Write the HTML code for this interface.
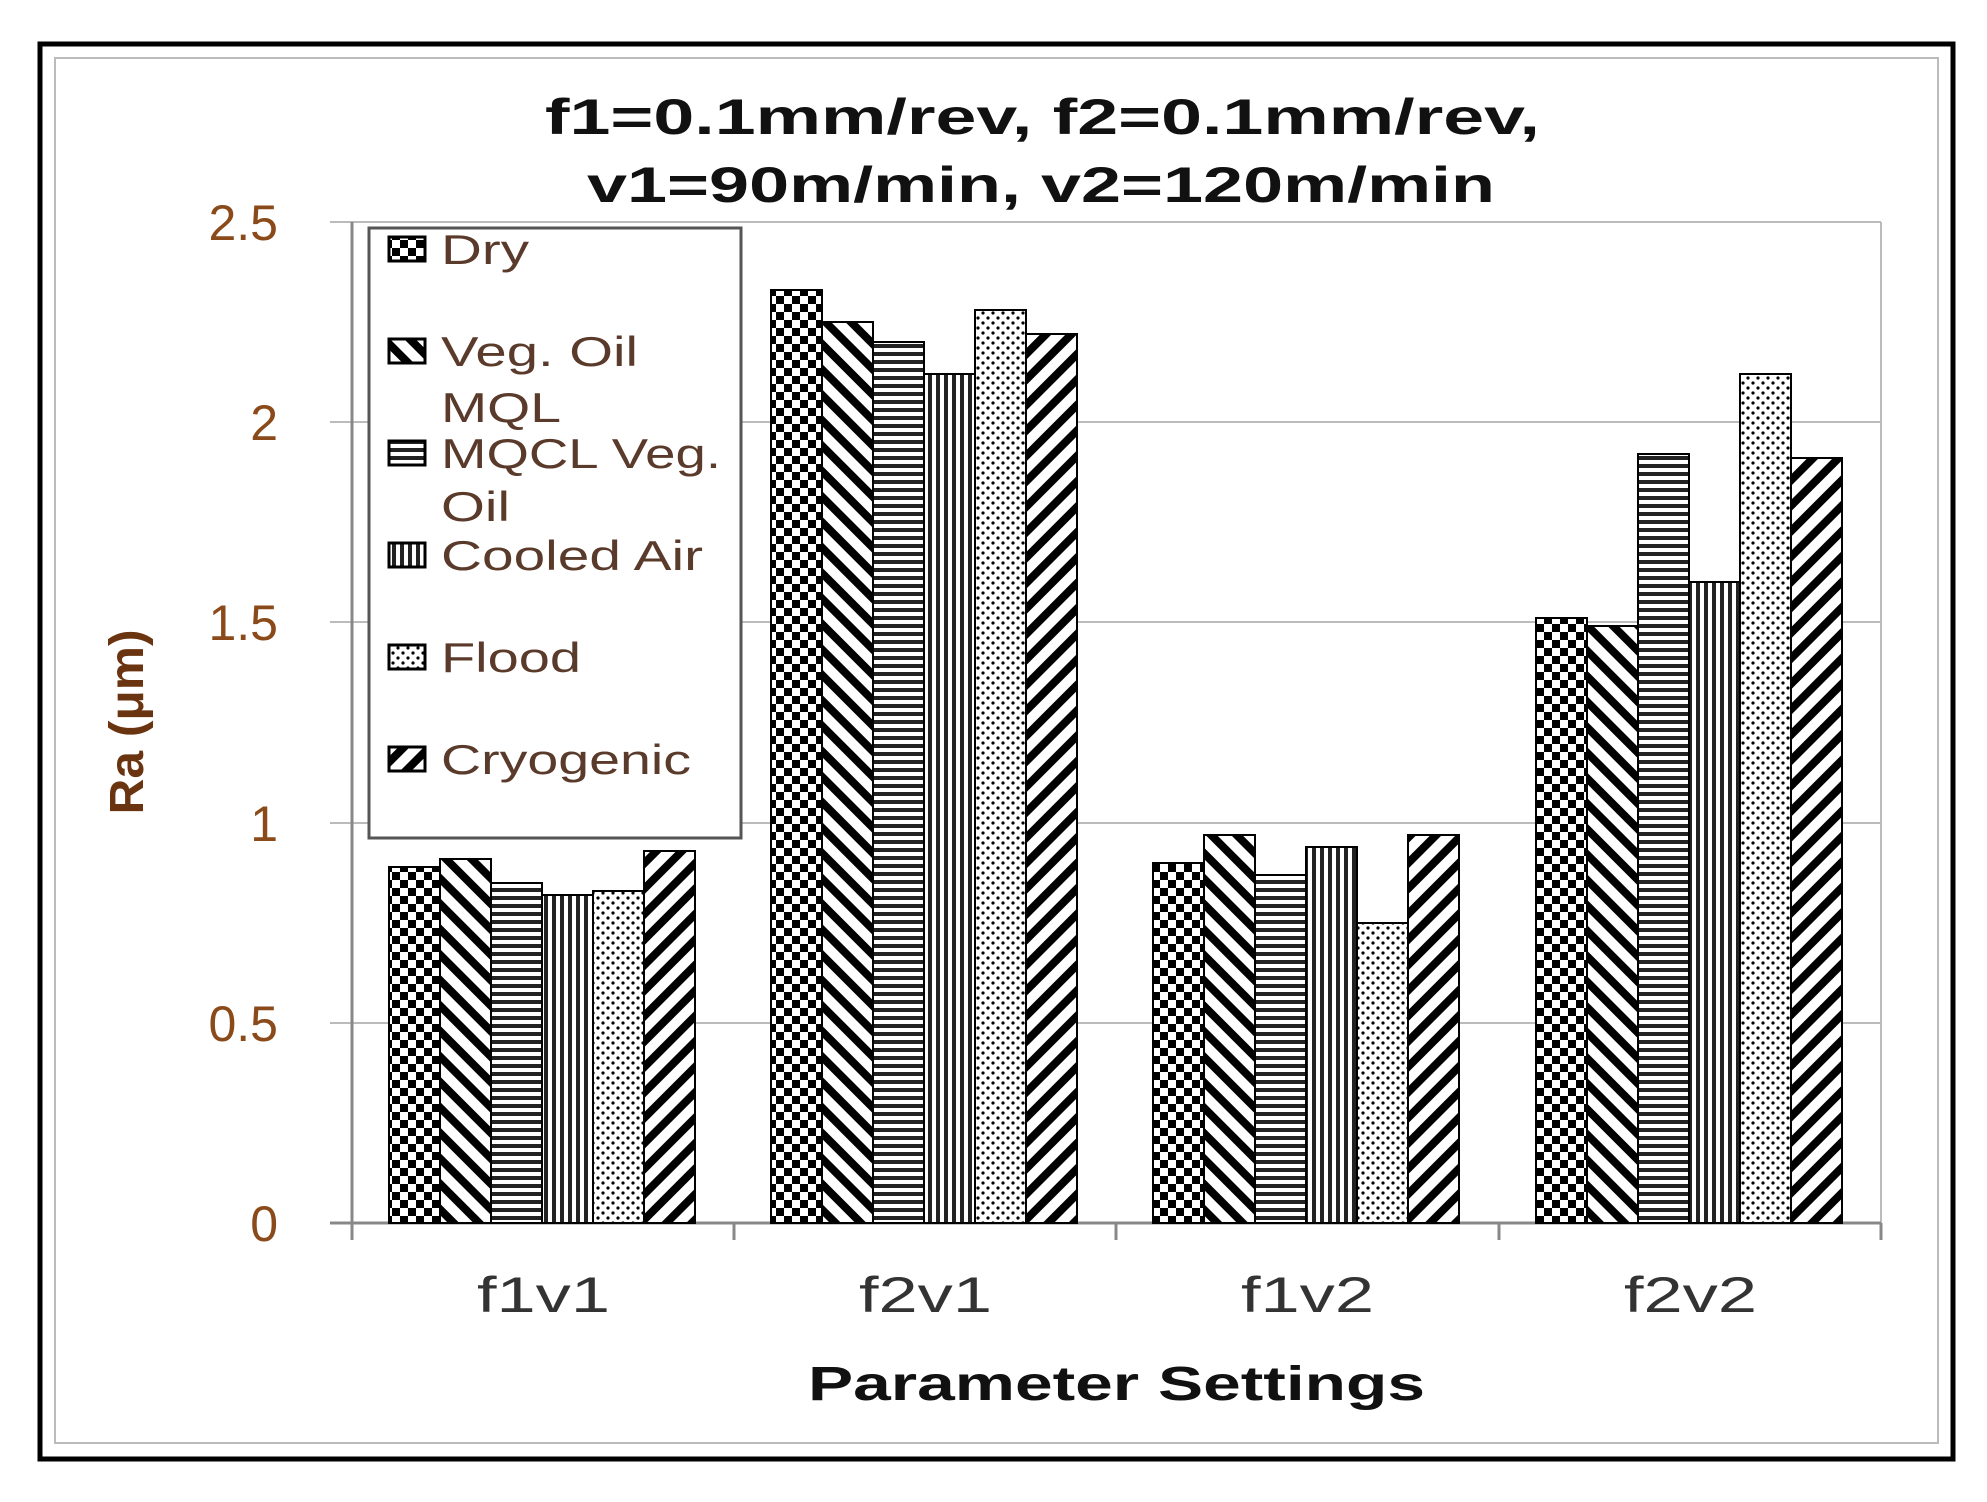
<!DOCTYPE html>
<html><head><meta charset="utf-8"><style>
html,body{margin:0;padding:0;background:#fff;}
svg{display:block;}
</style></head><body>
<svg width="1987" height="1502" viewBox="0 0 1987 1502" xmlns="http://www.w3.org/2000/svg" font-family="'Liberation Sans', sans-serif">
<defs>
<pattern id="pDry" width="16" height="16" patternUnits="userSpaceOnUse">
<rect width="16" height="16" fill="#fff"/><rect width="8" height="8" fill="#000"/><rect x="8" y="8" width="8" height="8" fill="#000"/></pattern>
<pattern id="pVeg" width="18" height="18" patternUnits="userSpaceOnUse" patternTransform="rotate(45)">
<rect width="18" height="18" fill="#fff"/><rect width="18" height="8" fill="#000"/></pattern>
<pattern id="pMq" width="8" height="8" patternUnits="userSpaceOnUse">
<rect width="8" height="8" fill="#fff"/><rect width="8" height="4" fill="#222"/></pattern>
<pattern id="pCa" width="8" height="8" patternUnits="userSpaceOnUse">
<rect width="8" height="8" fill="#fff"/><rect width="4" height="8" fill="#222"/></pattern>
<pattern id="pFl" width="10" height="10" patternUnits="userSpaceOnUse">
<rect width="10" height="10" fill="#fff"/><circle cx="3" cy="3" r="1.6" fill="#000"/><circle cx="8" cy="8" r="1.6" fill="#000"/></pattern>
<pattern id="pCr" width="18" height="18" patternUnits="userSpaceOnUse" patternTransform="rotate(-45)">
<rect width="18" height="18" fill="#fff"/><rect width="18" height="8" fill="#000"/></pattern>
</defs>
<rect width="1987" height="1502" fill="#fff"/>
<rect x="40" y="44" width="1913" height="1415" fill="none" stroke="#000" stroke-width="5"/>
<rect x="55" y="58" width="1883" height="1385" fill="none" stroke="#bbb" stroke-width="2"/>
<g font-weight="bold" font-size="50" fill="#111">
<text x="545" y="134" textLength="995" lengthAdjust="spacingAndGlyphs">f1=0.1mm/rev, f2=0.1mm/rev,</text>
<text x="587" y="202" textLength="908" lengthAdjust="spacingAndGlyphs">v1=90m/min, v2=120m/min</text>
</g>
<g stroke="#bbb" stroke-width="2">
<line x1="330" y1="222" x2="1881" y2="222"/>
<line x1="330" y1="422" x2="1881" y2="422"/>
<line x1="330" y1="622" x2="1881" y2="622"/>
<line x1="330" y1="823" x2="1881" y2="823"/>
<line x1="330" y1="1023" x2="1881" y2="1023"/>
<line x1="1881" y1="222" x2="1881" y2="1223"/>
</g>
<g stroke="#888" stroke-width="3">
<line x1="352" y1="222" x2="352" y2="1223"/>
<line x1="330" y1="1223" x2="1881" y2="1223"/>
<line x1="352" y1="1223" x2="352" y2="1240"/>
<line x1="734" y1="1223" x2="734" y2="1240"/>
<line x1="1116" y1="1223" x2="1116" y2="1240"/>
<line x1="1499" y1="1223" x2="1499" y2="1240"/>
<line x1="1881" y1="1223" x2="1881" y2="1240"/>
</g>
<g font-size="50" fill="#8a4a1a" text-anchor="end">
<text x="278" y="240">2.5</text>
<text x="278" y="440">2</text>
<text x="278" y="640">1.5</text>
<text x="278" y="841">1</text>
<text x="278" y="1041">0.5</text>
<text x="278" y="1241">0</text>
</g>
<text transform="translate(143,722) rotate(-90)" font-size="48" font-weight="bold" fill="#6b3410" text-anchor="middle" textLength="185" lengthAdjust="spacingAndGlyphs">Ra (μm)</text>
<g font-size="50" fill="#333">
<text x="477" y="1312" textLength="133" lengthAdjust="spacingAndGlyphs">f1v1</text>
<text x="859" y="1312" textLength="133" lengthAdjust="spacingAndGlyphs">f2v1</text>
<text x="1241" y="1312" textLength="133" lengthAdjust="spacingAndGlyphs">f1v2</text>
<text x="1624" y="1312" textLength="133" lengthAdjust="spacingAndGlyphs">f2v2</text>
</g>
<text x="808" y="1400" font-size="48" font-weight="bold" fill="#111" textLength="617" lengthAdjust="spacingAndGlyphs">Parameter Settings</text>
<g stroke="#000" stroke-width="2">
<rect x="389" y="867" width="51" height="356" fill="url(#pDry)"/>
<rect x="440" y="859" width="51" height="364" fill="url(#pVeg)"/>
<rect x="491" y="883" width="51" height="340" fill="url(#pMq)"/>
<rect x="542" y="895" width="51" height="328" fill="url(#pCa)"/>
<rect x="593" y="891" width="51" height="332" fill="url(#pFl)"/>
<rect x="644" y="851" width="51" height="372" fill="url(#pCr)"/>
<rect x="771" y="290" width="51" height="933" fill="url(#pDry)"/>
<rect x="822" y="322" width="51" height="901" fill="url(#pVeg)"/>
<rect x="873" y="342" width="51" height="881" fill="url(#pMq)"/>
<rect x="924" y="374" width="51" height="849" fill="url(#pCa)"/>
<rect x="975" y="310" width="51" height="913" fill="url(#pFl)"/>
<rect x="1026" y="334" width="51" height="889" fill="url(#pCr)"/>
<rect x="1153" y="863" width="51" height="360" fill="url(#pDry)"/>
<rect x="1204" y="835" width="51" height="388" fill="url(#pVeg)"/>
<rect x="1255" y="875" width="51" height="348" fill="url(#pMq)"/>
<rect x="1306" y="847" width="51" height="376" fill="url(#pCa)"/>
<rect x="1357" y="923" width="51" height="300" fill="url(#pFl)"/>
<rect x="1408" y="835" width="51" height="388" fill="url(#pCr)"/>
<rect x="1536" y="618" width="51" height="605" fill="url(#pDry)"/>
<rect x="1587" y="626" width="51" height="597" fill="url(#pVeg)"/>
<rect x="1638" y="454" width="51" height="769" fill="url(#pMq)"/>
<rect x="1689" y="582" width="51" height="641" fill="url(#pCa)"/>
<rect x="1740" y="374" width="51" height="849" fill="url(#pFl)"/>
<rect x="1791" y="458" width="51" height="765" fill="url(#pCr)"/>
</g>
<rect x="369" y="228" width="372" height="610" fill="#fff" stroke="#555" stroke-width="3"/>
<g stroke="#000" stroke-width="3">
<rect x="389" y="237" width="36" height="24" fill="url(#pDry)"/>
<rect x="389" y="339" width="36" height="24" fill="url(#pVeg)"/>
<rect x="389" y="441" width="36" height="24" fill="url(#pMq)"/>
<rect x="389" y="543" width="36" height="24" fill="url(#pCa)"/>
<rect x="389" y="645" width="36" height="24" fill="url(#pFl)"/>
<rect x="389" y="747" width="36" height="24" fill="url(#pCr)"/>
</g>
<g font-size="42" fill="#5a3a2a">
<text x="441" y="264" textLength="88" lengthAdjust="spacingAndGlyphs">Dry</text>
<text x="441" y="366" textLength="197" lengthAdjust="spacingAndGlyphs">Veg. Oil</text>
<text x="441" y="422" textLength="120" lengthAdjust="spacingAndGlyphs">MQL</text>
<text x="441" y="468" textLength="280" lengthAdjust="spacingAndGlyphs">MQCL Veg.</text>
<text x="441" y="521" textLength="69" lengthAdjust="spacingAndGlyphs">Oil</text>
<text x="441" y="570" textLength="262" lengthAdjust="spacingAndGlyphs">Cooled Air</text>
<text x="441" y="672" textLength="140" lengthAdjust="spacingAndGlyphs">Flood</text>
<text x="441" y="774" textLength="250" lengthAdjust="spacingAndGlyphs">Cryogenic</text>
</g>
</svg>
</body></html>
